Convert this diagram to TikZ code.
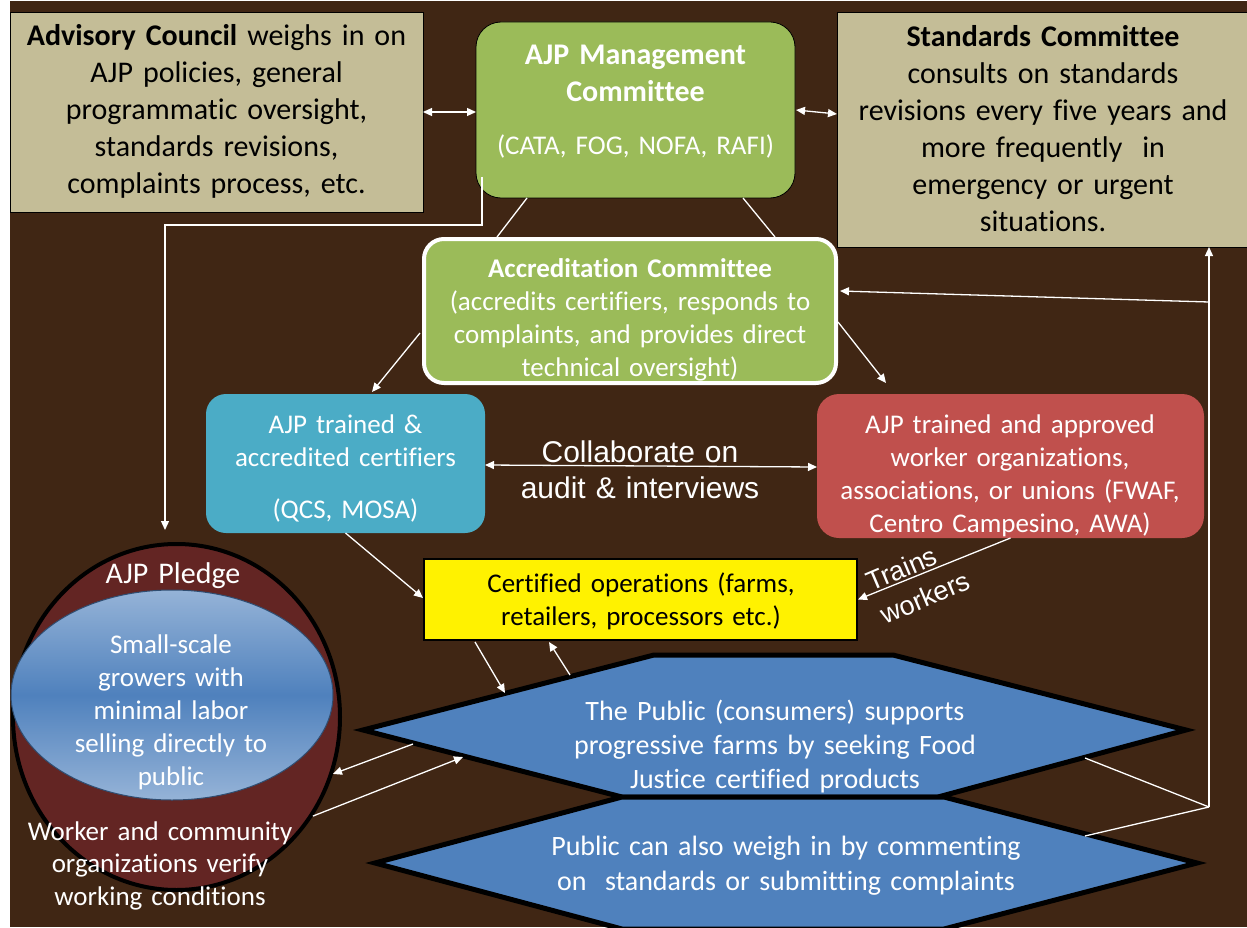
\documentclass[tikz,border=0pt]{standalone}
\usepackage{fontspec}
\setmainfont{Carlito}[Ligatures=NoCommon]
\newfontfamily\arialfont{Liberation Sans}
\usetikzlibrary{arrows.meta,calc,shapes.geometric}
\definecolor{bgbrown}{RGB}{64,38,20}
\definecolor{tanbox}{RGB}{196,189,151}
\definecolor{mgreen}{RGB}{155,187,89}
\definecolor{cblue}{RGB}{75,172,198}
\definecolor{cred}{RGB}{192,80,77}
\definecolor{hexblue}{RGB}{79,129,189}
\definecolor{pledgered}{RGB}{99,37,35}
\definecolor{lightblue}{RGB}{149,179,215}
\begin{document}
\begin{tikzpicture}[x=1pt,y=-1pt,
  box/.style={draw=black, line width=0.8pt, inner sep=0pt, outer sep=0pt},
  txt/.style={anchor=base, align=center, inner sep=0pt, outer sep=0pt},
  big/.style={font=\fontsize{30}{37}\selectfont},
  bigb/.style={font=\fontsize{30}{37}\selectfont\bfseries},
  mid/.style={font=\fontsize{27}{33}\selectfont},
  hexfont/.style={font=\fontsize{28}{34}\selectfont},
  conn/.style={draw=white, line width=1.3pt},
  arr/.style={conn, -{Triangle[length=9pt,width=8pt]}},
  darr/.style={conn, {Triangle[length=9pt,width=8pt]}-{Triangle[length=9pt,width=8pt]}},
  hexagon/.style={fill=hexblue, draw=black, line width=5pt, line join=miter},
]
\useasboundingbox (0,0) rectangle (1247,928);
\fill[white] (0,0) rectangle (1247,928);
\fill[bgbrown] (10,1) rectangle (1247,927);

% boxes
\node[box, fill=tanbox, minimum width=413pt, minimum height=200pt] (adv) at (216.5,112) {};
\node[box, fill=mgreen, rounded corners=25pt, minimum width=319pt, minimum height=176pt] (mgmt) at (635.5,110) {};
\node[box, fill=tanbox, minimum width=415pt, minimum height=235pt] (std) at (1044.5,129.5) {};
\node[draw=white, line width=4pt, fill=mgreen, rounded corners=20pt, minimum width=412pt, minimum height=144pt, inner sep=0pt] (accr) at (630,311) {};
\node[fill=cblue, rounded corners=20pt, minimum width=279pt, minimum height=139pt, inner sep=0pt, outer sep=0pt] (cert) at (345.5,463.5) {};
\node[fill=cred, rounded corners=22pt, minimum width=387pt, minimum height=144pt, inner sep=0pt, outer sep=0pt] (wrk) at (1010.5,466) {};
\node[box, line width=1.5pt, fill=yellow, minimum width=433pt, minimum height=81pt] (ops) at (640.5,599.5) {};

% hexagons
\draw[hexagon] (363,730) -- (654,655) -- (893,655) -- (1186,730) -- (938,797) -- (622,797) -- cycle;
\draw[hexagon] (375,863) -- (622,797) -- (944,797) -- (1197,863) -- (944,929) -- (622,929) -- cycle;

% pledge
\node[ellipse, draw=black, line width=4pt, fill=pledgered, minimum width=327pt, minimum height=346pt, inner sep=0pt] (pledge) at (176.5,717) {};
\node[ellipse, draw=hexblue!60!black, line width=1pt, top color=lightblue, bottom color=lightblue, middle color=hexblue, minimum width=322pt, minimum height=210pt, inner sep=0pt] (grow) at (172,695) {};

% coordinates
\coordinate (h1a) at (505,693);
\coordinate (h1b) at (570,675);
\coordinate (h1c) at (413,744);
\coordinate (h1d) at (463,757);
\coordinate (h1e) at (1085,758);
\coordinate (h2a) at (1085,836);
\coordinate (j) at (1209,807);
\coordinate (k) at (1209,302);
\coordinate (bk) at (165,225);

% connectors
\draw[darr] (adv.east) -- (adv.east -| mgmt.west);
\draw[darr] ($(mgmt.east)+(1,0)$) -- ($(std.west)+(0,-15.5)$);
\draw[conn] ($(mgmt.south)+(-108.5,0)$) -- ($(accr.north)+(-133,0)$);
\draw[conn] ($(mgmt.south)+(107.5,0)$) -- ($(accr.north)+(145,0)$);
\draw[arr] ($(mgmt.south west)+(6,-21)$) |- (bk) -- ($(pledge.north)+(-11.5,-12)$);
\draw[arr] ($(accr.west)+(-2,22)$) -- ($(cert.north)+(26.5,-2)$);
\draw[arr] ($(accr.east)+(0,11)$) -- ($(wrk.north)+(-124.5,-11)$);
\draw[darr] ($(cert.east)+(0,1.5)$) -- ($(wrk.west)+(0,1)$);
\draw[arr] (wrk.south) -- ($(ops.east)+(1,0)$);
\draw[arr] (cert.south) -- ($(ops.west)+(-1,-1.5)$);
\draw[arr] ($(ops.south)+(-165.5,2)$) -- (h1a);
\draw[arr] (h1b) -- ($(ops.south)+(-91.5,2)$);
\draw[arr] (h1c) -- (pledge.-20);
\draw[arr] (pledge.-36) -- (h1d);
\draw[conn] (h1e) -- (j);
\draw[conn] (h2a) -- (j);
\draw[arr] (j) -- (j |- std.south);
\draw[arr] (k) -- ($(accr.east)+(2,-20)$);

% texts
\node[txt, big, text width=420pt] (advT) at (216.5,46) {\textbf{Advisory Council} weighs in on\\AJP policies, general\\programmatic oversight,\\standards revisions,\\complaints process, etc.};
\node[txt, bigb, text=white, text width=320pt] (mgmtT) at (635.5,65) {AJP Management\\Committee};
\node[txt, mid, text=white, text width=320pt] (mgmtS) at (635.5,155) {(CATA, FOG, NOFA, RAFI)};
\node[txt, big, text width=420pt] (stdT) at (1043,47) {\textbf{Standards Committee}\\consults on standards\\revisions every five years and\\more frequently~~in\\emergency or urgent\\situations.};
\node[txt, mid, text=white, text width=420pt] (accrT) at (630,277) {\textbf{Accreditation Committee}\\(accredits certifiers, responds to\\complaints, and provides direct\\technical oversight)};
\node[txt, mid, text=white, text width=280pt] (certT) at (345.5,433) {AJP trained \&\\accredited certifiers};
\node[txt, mid, text=white, text width=280pt] (certS) at (345.5,518) {(QCS, MOSA)};
\node[txt, mid, text=white, text width=390pt] (wrkT) at (1010,433) {AJP trained and approved\\worker organizations,\\associations, or unions (FWAF,\\Centro Campesino, AWA)};
\node[txt, text=white, text width=300pt, font=\arialfont\fontsize{30}{36}\selectfont] (collT) at (640,462) {Collaborate on\\audit \& interviews};
\node[align=left, text=white, inner sep=0pt, rotate=23, font=\arialfont\fontsize{27}{36}\selectfont] (trainT) at (918,581) {Trains\\workers};
\node[txt, mid, text width=430pt] (opsT) at (641,592) {Certified operations (farms,\\retailers, processors etc.)};
\node[txt, hexfont, text=white, text width=500pt] (pubT) at (775,720) {The Public (consumers) supports\\progressive farms by seeking Food\\Justice certified products};
\node[txt, font=\fontsize{28}{35}\selectfont, text=white, text width=540pt] (pub2T) at (786,855) {Public can also weigh in by commenting\\on~~standards or submitting complaints};
\node[txt, big, text=white, text width=300pt] (pledgeT) at (173,583) {AJP Pledge};
\node[txt, mid, text=white, text width=300pt] (growT) at (171,653) {Small-scale\\growers with\\minimal labor\\selling directly to\\public};
\node[txt, font=\fontsize{27}{32.5}\selectfont, text=white, text width=330pt] (verT) at (160,840) {Worker and community\\organizations verify\\working conditions};

\fill[white] (0,0) rectangle (10,928);
\end{tikzpicture}
\end{document}
